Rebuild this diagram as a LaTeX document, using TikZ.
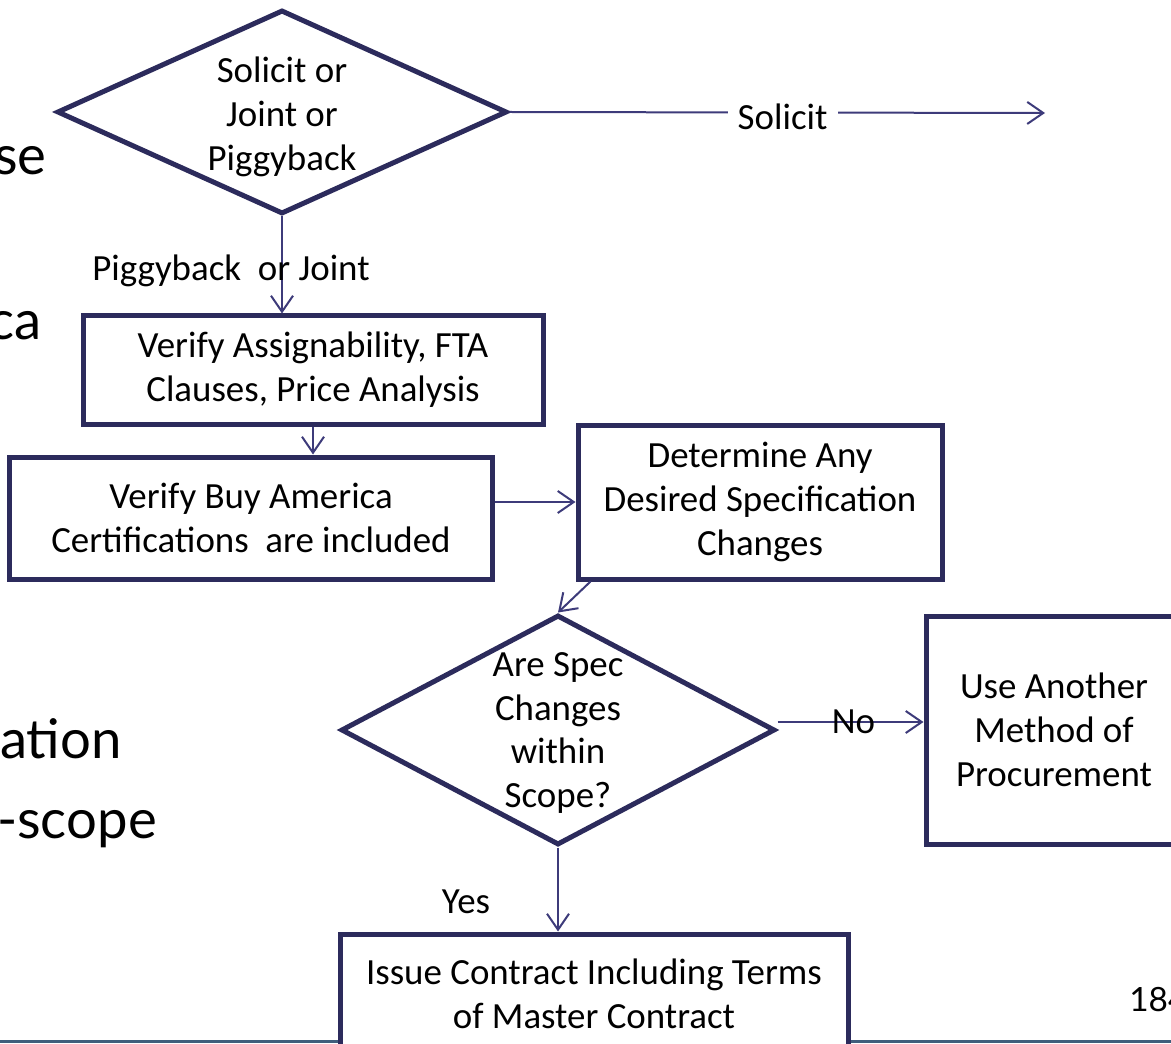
\documentclass[tikz,border=0pt]{standalone}
\usepackage{fontspec}
\setmainfont{Carlito}
\newfontfamily\slidefont{Lato}
\usetikzlibrary{shapes.geometric,arrows.meta}

\definecolor{boxline}{HTML}{2C2B5C}
\definecolor{arrline}{HTML}{3D3B7A}
\definecolor{slidebar}{HTML}{3F5E7C}

\tikzset{
  every node/.style={font=\fontsize{21}{25}\selectfont, align=center},
  block/.style={draw=boxline, line width=0.1cm, fill=white, inner sep=0pt},
  decision/.style={diamond, draw=boxline, line width=0.1cm, fill=white, inner sep=0pt},
  flow/.style={draw=arrline, line width=0.04cm, -{Straight Barb[length=.32cm,width=.44cm]}},
  slidetext/.style={font=\slidefont\fontsize{31}{36}\selectfont, anchor=base east, inner sep=0pt}
}

\begin{document}
\begin{tikzpicture}
	\useasboundingbox (0,0) rectangle (23.42,-20.88);
	% slide behind the chart
	\draw[slidebar, line width=0.06cm] (0,-20.82) -- (23.42,-20.82);
	\node[slidetext] (w1) at (0.94,-3.5) {se};
	\node[slidetext] (w2) at (0.84,-6.8) {ca};
	\node[slidetext] (w3) at (2.44,-15.16) {ation};
	\node[slidetext] (w4) at (3.14,-16.76) {-scope};
	\node[slidetext, anchor=base west, font=\slidefont\fontsize{19}{23}\selectfont] (pg) at (22.58,-20.22) {184};

	\node (choose) [decision, minimum width=9cm, minimum height=4.08cm,
		label={[align=center, yshift=-0.1cm]center:Solicit or\\Joint or\\Piggyback}] at (5.64,-2.24) {};
	\node (assign) [block, minimum width=9.2cm, minimum height=2.16cm,
		node distance=5.16cm, below of=choose, xshift=0.62cm] {Verify Assignability, FTA\\Clauses, Price Analysis};
	\node (buyam) [block, minimum width=9.64cm, minimum height=2.44cm,
		node distance=2.96cm, below of=assign, xshift=-1.24cm] {Verify Buy America\\Certifications~~are included};
	\node (specs) [block, minimum width=7.28cm, minimum height=3.08cm,
		node distance=10.18cm, right of=buyam, yshift=0.32cm] {Determine Any\\Desired Specification\\Changes};
	\node (scope) [decision, minimum width=8.68cm, minimum height=4.6cm,
		label={[align=center, yshift=-0.06cm]center:Are Spec\\Changes\\within\\Scope?},
		node distance=4.56cm, below of=specs, xshift=-4.04cm] {};
	\node (other) [block, minimum width=5.12cm, minimum height=4.56cm,
		node distance=9.92cm, right of=scope] {Use Another\\Method of\\Procurement};
	\node (issue) [block, minimum width=10.16cm, minimum height=2.4cm,
		node distance=5.28cm, below of=scope, xshift=0.72cm] {Issue Contract Including Terms\\of Master Contract};
	\coordinate (solend) at (20.9,-2.26);

	\draw[flow] (choose.east) -- node[pos=0.51, fill=white, inner xsep=0.2cm, inner ysep=1pt, yshift=-0.08cm] {Solicit} (solend);
	\draw[flow] (choose.south) -- node[pos=0.56, xshift=-1.02cm] {Piggyback~~or Joint} (choose.south |- assign.north);
	\draw[flow] (assign.south) -- (assign.south |- buyam.north);
	\draw[flow] (buyam.east |- specs.west) -- (specs.west);
	\draw[flow] ([xshift=0.3cm]specs.south west) -- (scope.north);
	\draw[flow] ([yshift=0.16cm]scope.east) -- node[pos=0.52] {No} ([yshift=0.16cm]other.west);
	\draw[flow] (scope.south) -- node[pos=0.65, xshift=-1.84cm] {Yes} (scope.south |- issue.north);
\end{tikzpicture}
\end{document}
